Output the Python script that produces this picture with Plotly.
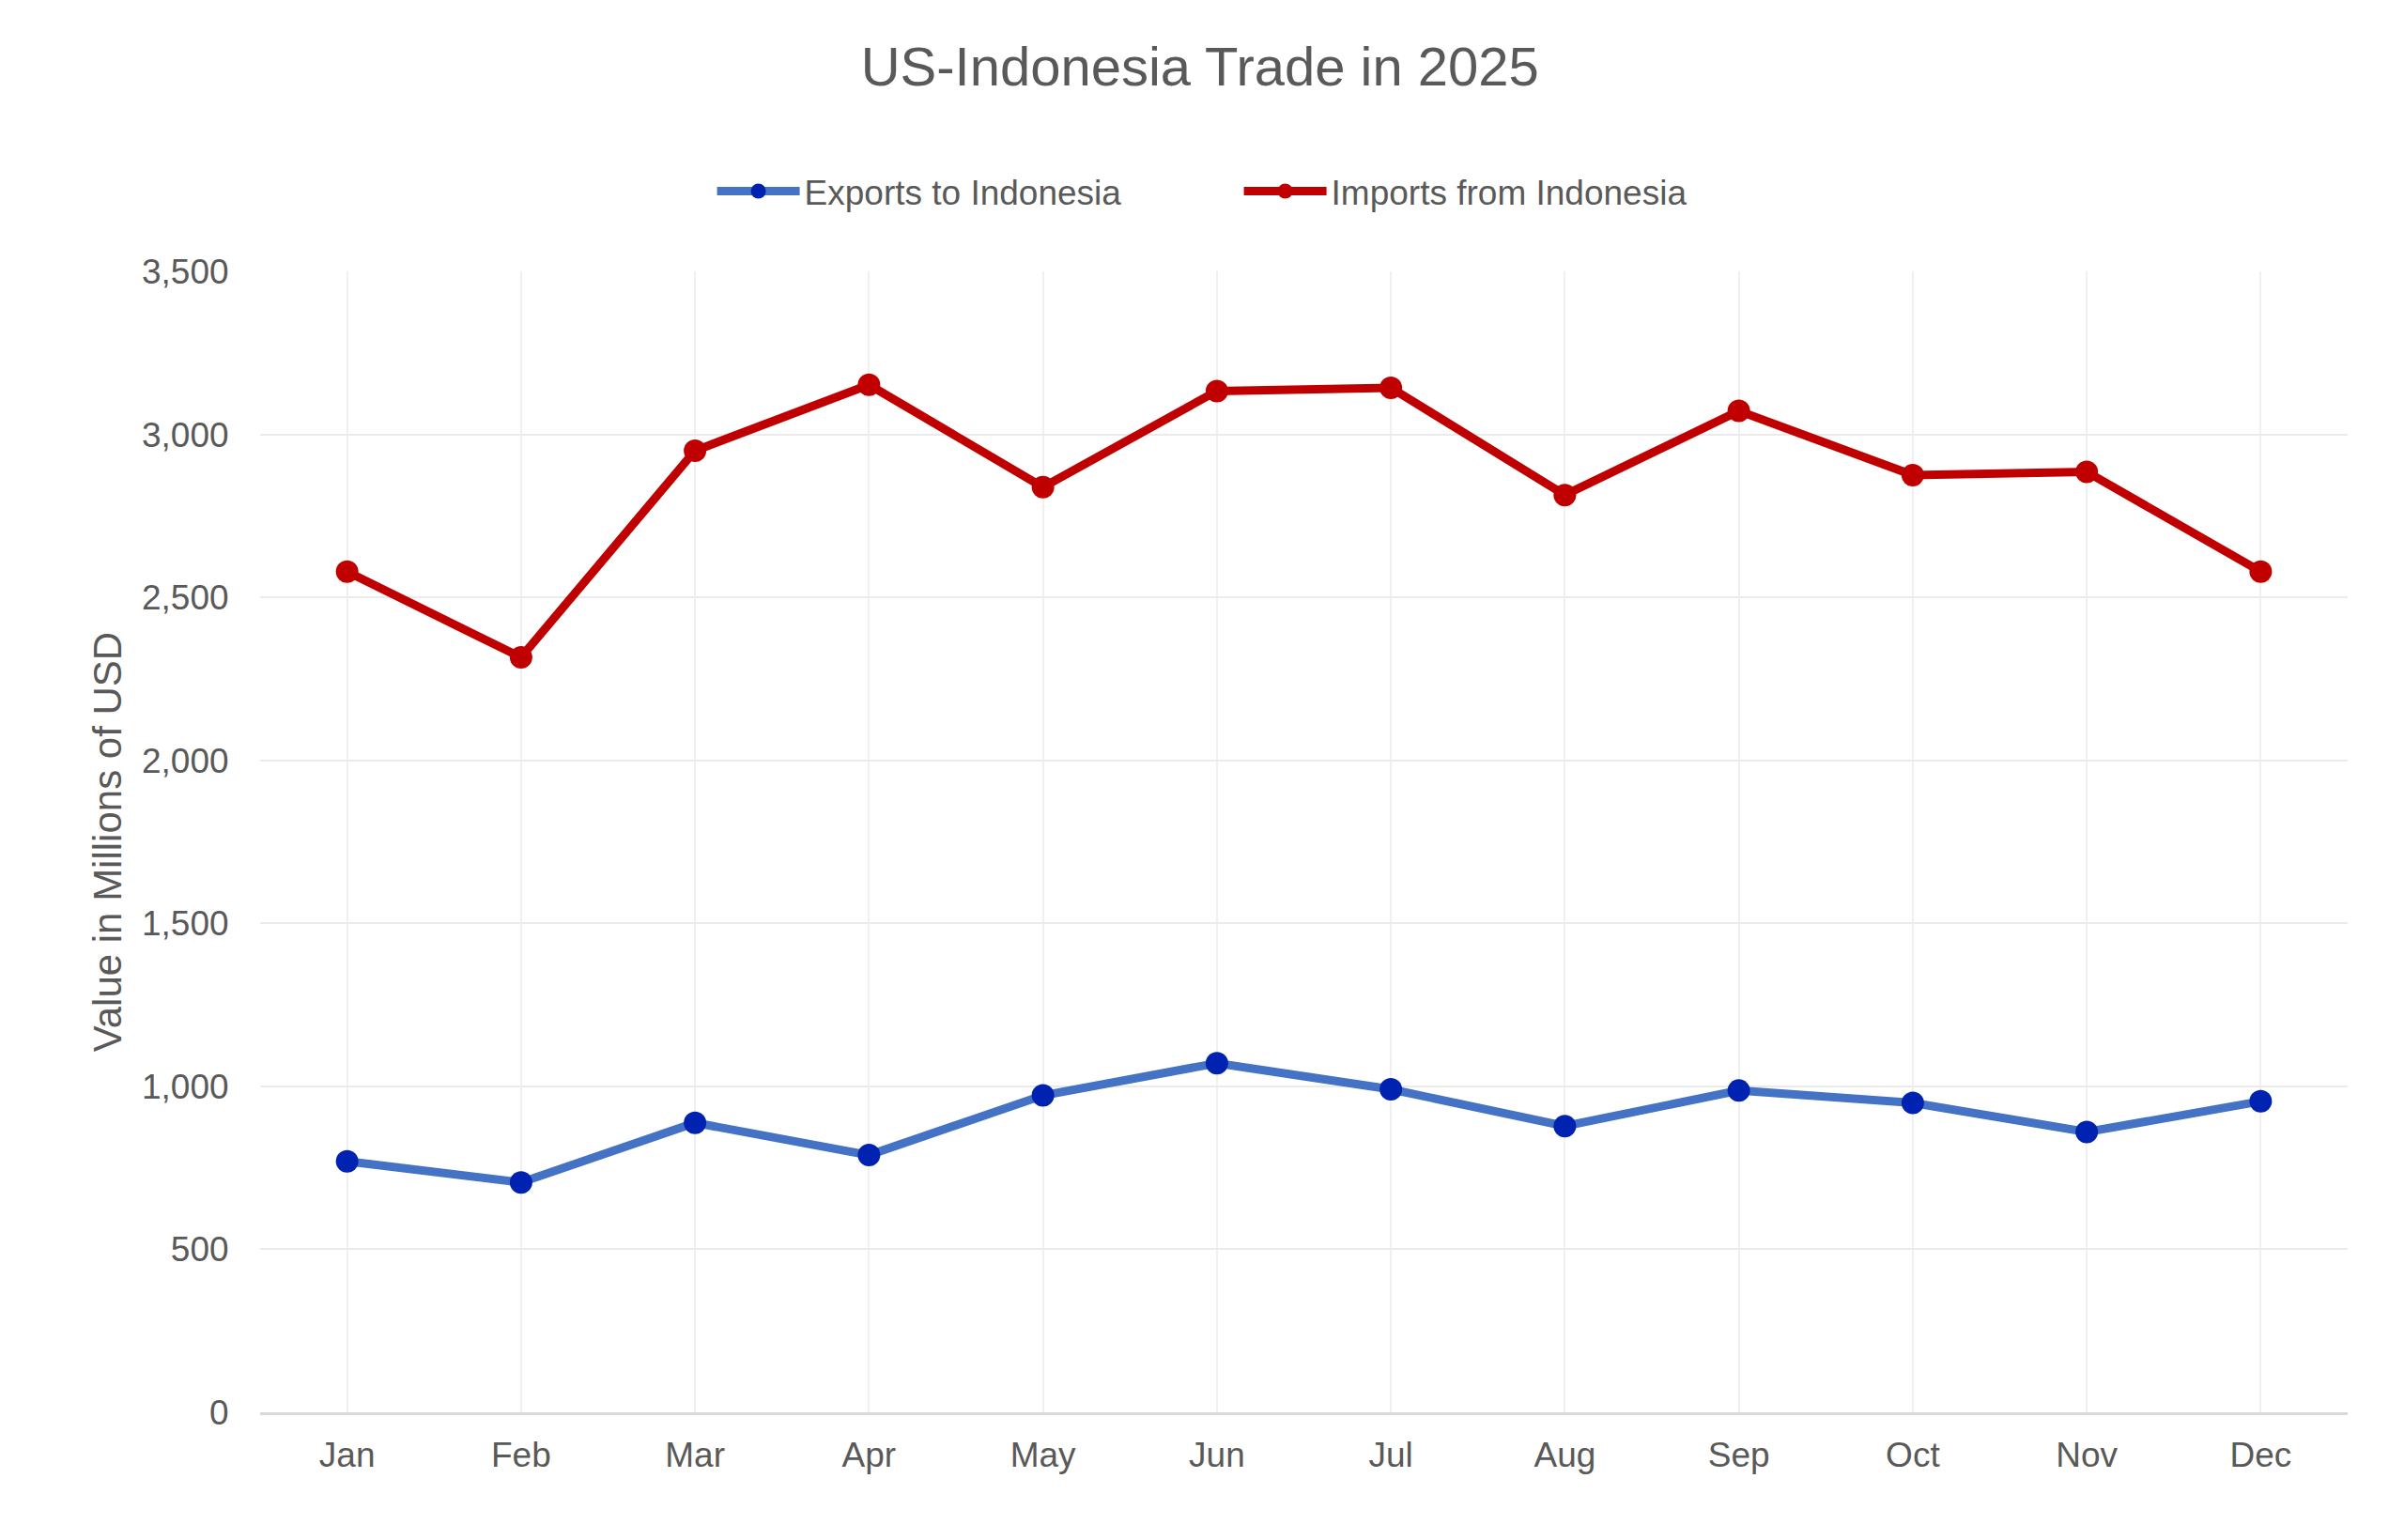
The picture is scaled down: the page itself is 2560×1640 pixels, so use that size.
import plotly.graph_objects as go

months = ["Jan", "Feb", "Mar", "Apr", "May", "Jun",
          "Jul", "Aug", "Sep", "Oct", "Nov", "Dec"]
exports = [770, 705, 888, 789, 972, 1071, 991, 878, 987, 949, 860, 954]
imports = [2579, 2316, 2950, 3152, 2838, 3133, 3143, 2814, 3072, 2875, 2885, 2579]

TEXT = "#595959"
FONT = "Liberation Sans, Arial, sans-serif"

fig = go.Figure()

# Exports - light blue line, dark blue points
fig.add_trace(go.Scatter(
    x=months, y=exports,
    name="Exports to Indonesia",
    mode="lines+markers",
    line=dict(color="#4472C4", width=9),
    marker=dict(color="#0022B0", size=24),
))

# Imports - dark red
fig.add_trace(go.Scatter(
    x=months, y=imports,
    name="Imports from Indonesia",
    mode="lines+markers",
    line=dict(color="#C00000", width=9),
    marker=dict(color="#C00000", size=24),
))

fig.update_layout(
    width=2560, height=1640,
    paper_bgcolor="white",
    plot_bgcolor="white",
    font=dict(family=FONT, color=TEXT, size=37),
    title=dict(
        text="US-Indonesia Trade in 2025",
        x=0.496, xanchor="center",
        y=1 - 63 / 1640, yanchor="middle",
        font=dict(size=58, color=TEXT),
    ),
    margin=dict(l=269, r=68, t=281, b=144),
    legend=dict(
        orientation="h",
        x=0.469, xanchor="center",
        y=1.070, yanchor="middle",
        font=dict(size=37, color=TEXT),
        itemwidth=88,
        entrywidth=458,
    ),
    showlegend=True,
)

fig.update_xaxes(
    range=[-0.5, 11.5],
    showgrid=True, gridcolor="#f0f0f0", gridwidth=2,
    showline=True, linecolor="#d9d9d9", linewidth=3,
    ticks="outside", ticklen=11, tickcolor="rgba(0,0,0,0)",
    tickfont=dict(size=37, color=TEXT),
    zeroline=False,
)

fig.update_yaxes(
    range=[0, 3500],
    dtick=500,
    tickformat=",",
    showgrid=True, gridcolor="#ebebeb", gridwidth=2,
    showline=False, zeroline=False,
    ticks="outside", ticklen=25, tickcolor="rgba(0,0,0,0)",
    tickfont=dict(size=37, color=TEXT),
    title=dict(text="Value in Millions of USD", font=dict(size=42, color=TEXT), standoff=8),
)

fig.write_html("out.html")
